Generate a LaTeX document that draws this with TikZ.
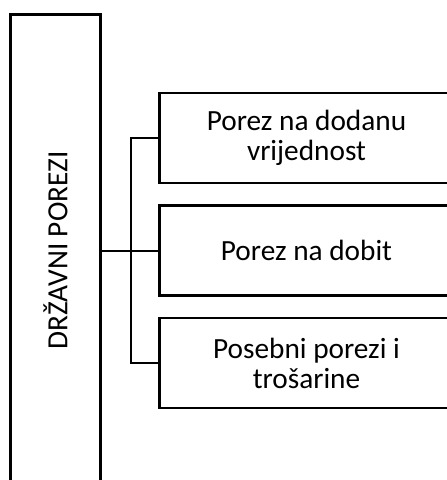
\documentclass[tikz,border=0pt]{standalone}
\usepackage{fontspec}
\setmainfont{Carlito}
\usepackage{tikz}

\begin{document}
\begin{tikzpicture}[x=1pt,y=-1pt,
        okvir/.style={draw,line width=2.3pt,minimum width=294pt,minimum height=90pt,
            align=center,inner sep=0pt,font=\fontsize{29.3}{30}\selectfont},
        veza/.style={line width=2pt}]
        \useasboundingbox (0,0) rectangle (447,480);
        \clip (0,0) rectangle (447,480);

        \node[draw,line width=2.3pt,rotate=90,minimum width=472pt,minimum height=90pt,
            inner sep=0pt,font=\fontsize{29.3}{30}\selectfont] (drzava) at (55.5,250.5) {DRŽAVNI POREZI};

        \node[okvir] (pdv) at (306.5,138) {Porez na dodanu\\vrijednost};
        \node[okvir] (dobit) at (306.5,250.5) {Porez na dobit};
        \node[okvir] (trosarine) at (306.5,363) {Posebni porezi i\\trošarine};

        \coordinate (spoj) at (130.5,250.5);

        \draw[veza] (drzava.south) -- (dobit.west);
        \draw[veza] (pdv.west) -| (spoj) |- (trosarine.west);
    \end{tikzpicture}
\end{document}
